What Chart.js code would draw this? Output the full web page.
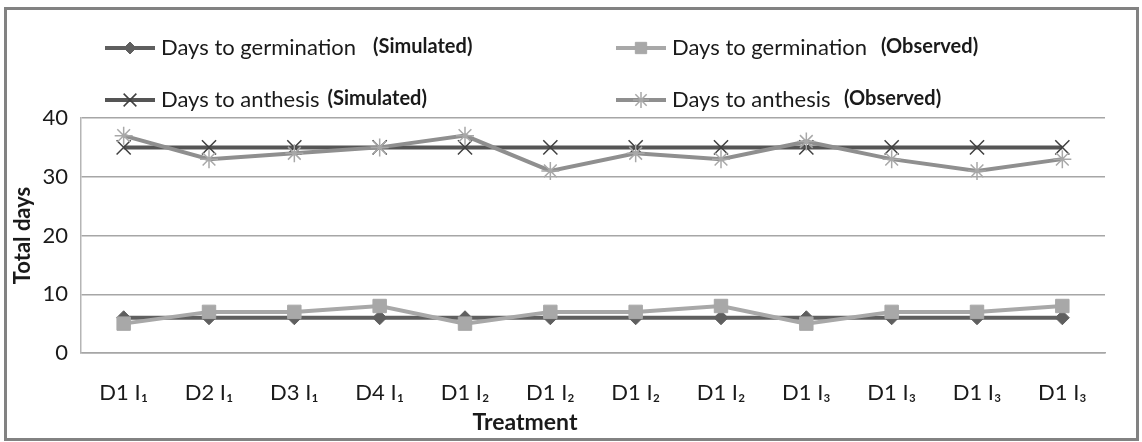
<!DOCTYPE html>
<html>
<head>
<meta charset="utf-8">
<script src="https://cdn.jsdelivr.net/npm/chart.js@4.4.0/dist/chart.umd.min.js"></script>
<style>
  html, body { margin: 0; padding: 0; background: #fff; }
  #wrap { position: relative; width: 1142px; height: 442px; }
  #frame { position: absolute; left: 4px; top: 7px; width: 1135px; height: 434px;
           box-sizing: border-box; border: 3px solid #828282; pointer-events: none; }
</style>
</head>
<body>
<div id="wrap">
  <canvas id="chart" width="1142" height="442"></canvas>
  <div id="frame"></div>
</div>
<script>
// Treatments along the x axis
const treatments = ['D1 I₁', 'D2 I₁', 'D3 I₁', 'D4 I₁', 'D1 I₂', 'D1 I₂', 'D1 I₂', 'D1 I₂', 'D1 I₃', 'D1 I₃', 'D1 I₃', 'D1 I₃'];

// Series values (days)
const germSimulated  = [6, 6, 6, 6, 6, 6, 6, 6, 6, 6, 6, 6];
const germObserved   = [5, 7, 7, 8, 5, 7, 7, 8, 5, 7, 7, 8];
const anthSimulated  = [35, 35, 35, 35, 35, 35, 35, 35, 35, 35, 35, 35];
const anthObserved   = [37, 33, 34, 35, 37, 31, 34, 33, 36, 33, 31, 33];

// y axis
const yMin = 0, yMax = 40, yStep = 10;

const FONT = "Lato, 'Open Sans', sans-serif";
const TEXT = '#1a1a1a';

// Legend drawn by hand so the "(Simulated)" part can be bold and smaller
const legendItems = [
  { ds: 0, x: 105, y: 48,  main: 'Days to germination', tag: '(Simulated)', tagX: 373 },
  { ds: 1, x: 616, y: 48,  main: 'Days to germination', tag: '(Observed)', tagX: 881 },
  { ds: 2, x: 105, y: 100, main: 'Days to anthesis', tag: '(Simulated)', tagX: 323 },
  { ds: 3, x: 616, y: 100, main: 'Days to anthesis', tag: '(Observed)', tagX: 844 }
];

const customLegend = {
  id: 'customLegend',
  afterDraw(chart) {
    const ctx = chart.ctx;
    legendItems.forEach(item => {
      const ds = chart.data.datasets[item.ds];
      ctx.save();
      ctx.strokeStyle = ds.borderColor;
      ctx.lineWidth = ds.borderWidth;
      ctx.beginPath();
      ctx.moveTo(item.x, item.y);
      ctx.lineTo(item.x + 50, item.y);
      ctx.stroke();
      ctx.fillStyle = ds.pointBackgroundColor;
      ctx.strokeStyle = ds.pointBorderColor;
      ctx.lineWidth = ds.pointBorderWidth;
      Chart.helpers.drawPoint(ctx, {
        pointStyle: ds.pointStyle,
        radius: ds.legendRadius,
        rotation: 0,
        borderWidth: ds.pointBorderWidth
      }, item.x + 25, item.y);
      ctx.restore();

      ctx.save();
      ctx.fillStyle = TEXT;
      ctx.textBaseline = 'middle';
      ctx.font = "22px " + FONT;
      const tx = item.x + 56;
      ctx.fillText(item.main, tx, item.y);
      const end = tx + ctx.measureText(item.main).width;
      ctx.font = "bold 20px " + FONT;
      ctx.fillText(item.tag, Math.max(item.tagX, end + 8), item.y - 1);
      ctx.restore();
    });

    // x axis title, sits left of the plot centre in the original
    ctx.save();
    ctx.fillStyle = TEXT;
    ctx.font = "bold 23px " + FONT;
    ctx.textAlign = 'center';
    ctx.textBaseline = 'middle';
    ctx.fillText('Treatment', 525, 423);
    ctx.restore();
  }
};

new Chart(document.getElementById('chart'), {
  type: 'line',
  data: {
    labels: treatments,
    datasets: [
      {
        label: 'Days to germination (Simulated)',
        data: germSimulated,
        borderColor: '#5f5f5f',
        borderWidth: 4,
        pointStyle: 'rectRot',
        pointRadius: 7,
        legendRadius: 6,
        pointBackgroundColor: '#5f5f5f',
        pointBorderColor: '#5f5f5f',
        pointBorderWidth: 1,
        order: 3
      },
      {
        label: 'Days to germination (Observed)',
        data: germObserved,
        borderColor: '#a8a8a8',
        borderWidth: 4,
        pointStyle: 'rect',
        pointRadius: 9.5,
        legendRadius: 8,
        pointBackgroundColor: '#a8a8a8',
        pointBorderColor: '#a8a8a8',
        pointBorderWidth: 1,
        order: 2
      },
      {
        label: 'Days to anthesis (Simulated)',
        data: anthSimulated,
        borderColor: '#555555',
        borderWidth: 4,
        pointStyle: 'crossRot',
        pointRadius: 10,
        legendRadius: 9,
        pointBackgroundColor: '#404040',
        pointBorderColor: '#404040',
        pointBorderWidth: 1.5,
        order: 1
      },
      {
        label: 'Days to anthesis (Observed)',
        data: anthObserved,
        borderColor: '#8f8f8f',
        borderWidth: 4,
        pointStyle: 'star',
        pointRadius: 9,
        legendRadius: 8,
        pointBackgroundColor: '#a8a8a8',
        pointBorderColor: '#a8a8a8',
        pointBorderWidth: 1.5,
        order: 0
      }
    ]
  },
  options: {
    responsive: false,
    animation: false,
    layout: { padding: { top: 118, right: 37, left: 0, bottom: 0 } },
    plugins: {
      legend: { display: false },
      tooltip: { enabled: false }
    },
    elements: { line: { tension: 0 } },
    scales: {
      x: {
        offset: true,
        afterFit: s => { s.height = 89; },
        grid: { display: false, drawTicks: false, offset: true },
        border: { display: true, color: '#a6a6a6', width: 1.5 },
        ticks: { padding: 27, color: TEXT, maxRotation: 0, autoSkip: false,
                 font: { family: FONT, size: 22 } }
      },
      y: {
        min: yMin,
        max: yMax,
        afterFit: s => { s.width = 81; },
        grid: { color: '#a6a6a6', lineWidth: 1.5, drawTicks: false },
        border: { display: true, color: '#b5b5b5', width: 1.5 },
        ticks: { stepSize: yStep, padding: 13, color: TEXT,
                 font: { family: FONT, size: 22 } },
        title: { display: true, text: 'Total days', color: TEXT,
                 padding: { top: 10, bottom: 0 },
                 font: { family: FONT, size: 22, weight: 'bold' } }
      }
    }
  },
  plugins: [customLegend]
});
</script>
</body>
</html>
